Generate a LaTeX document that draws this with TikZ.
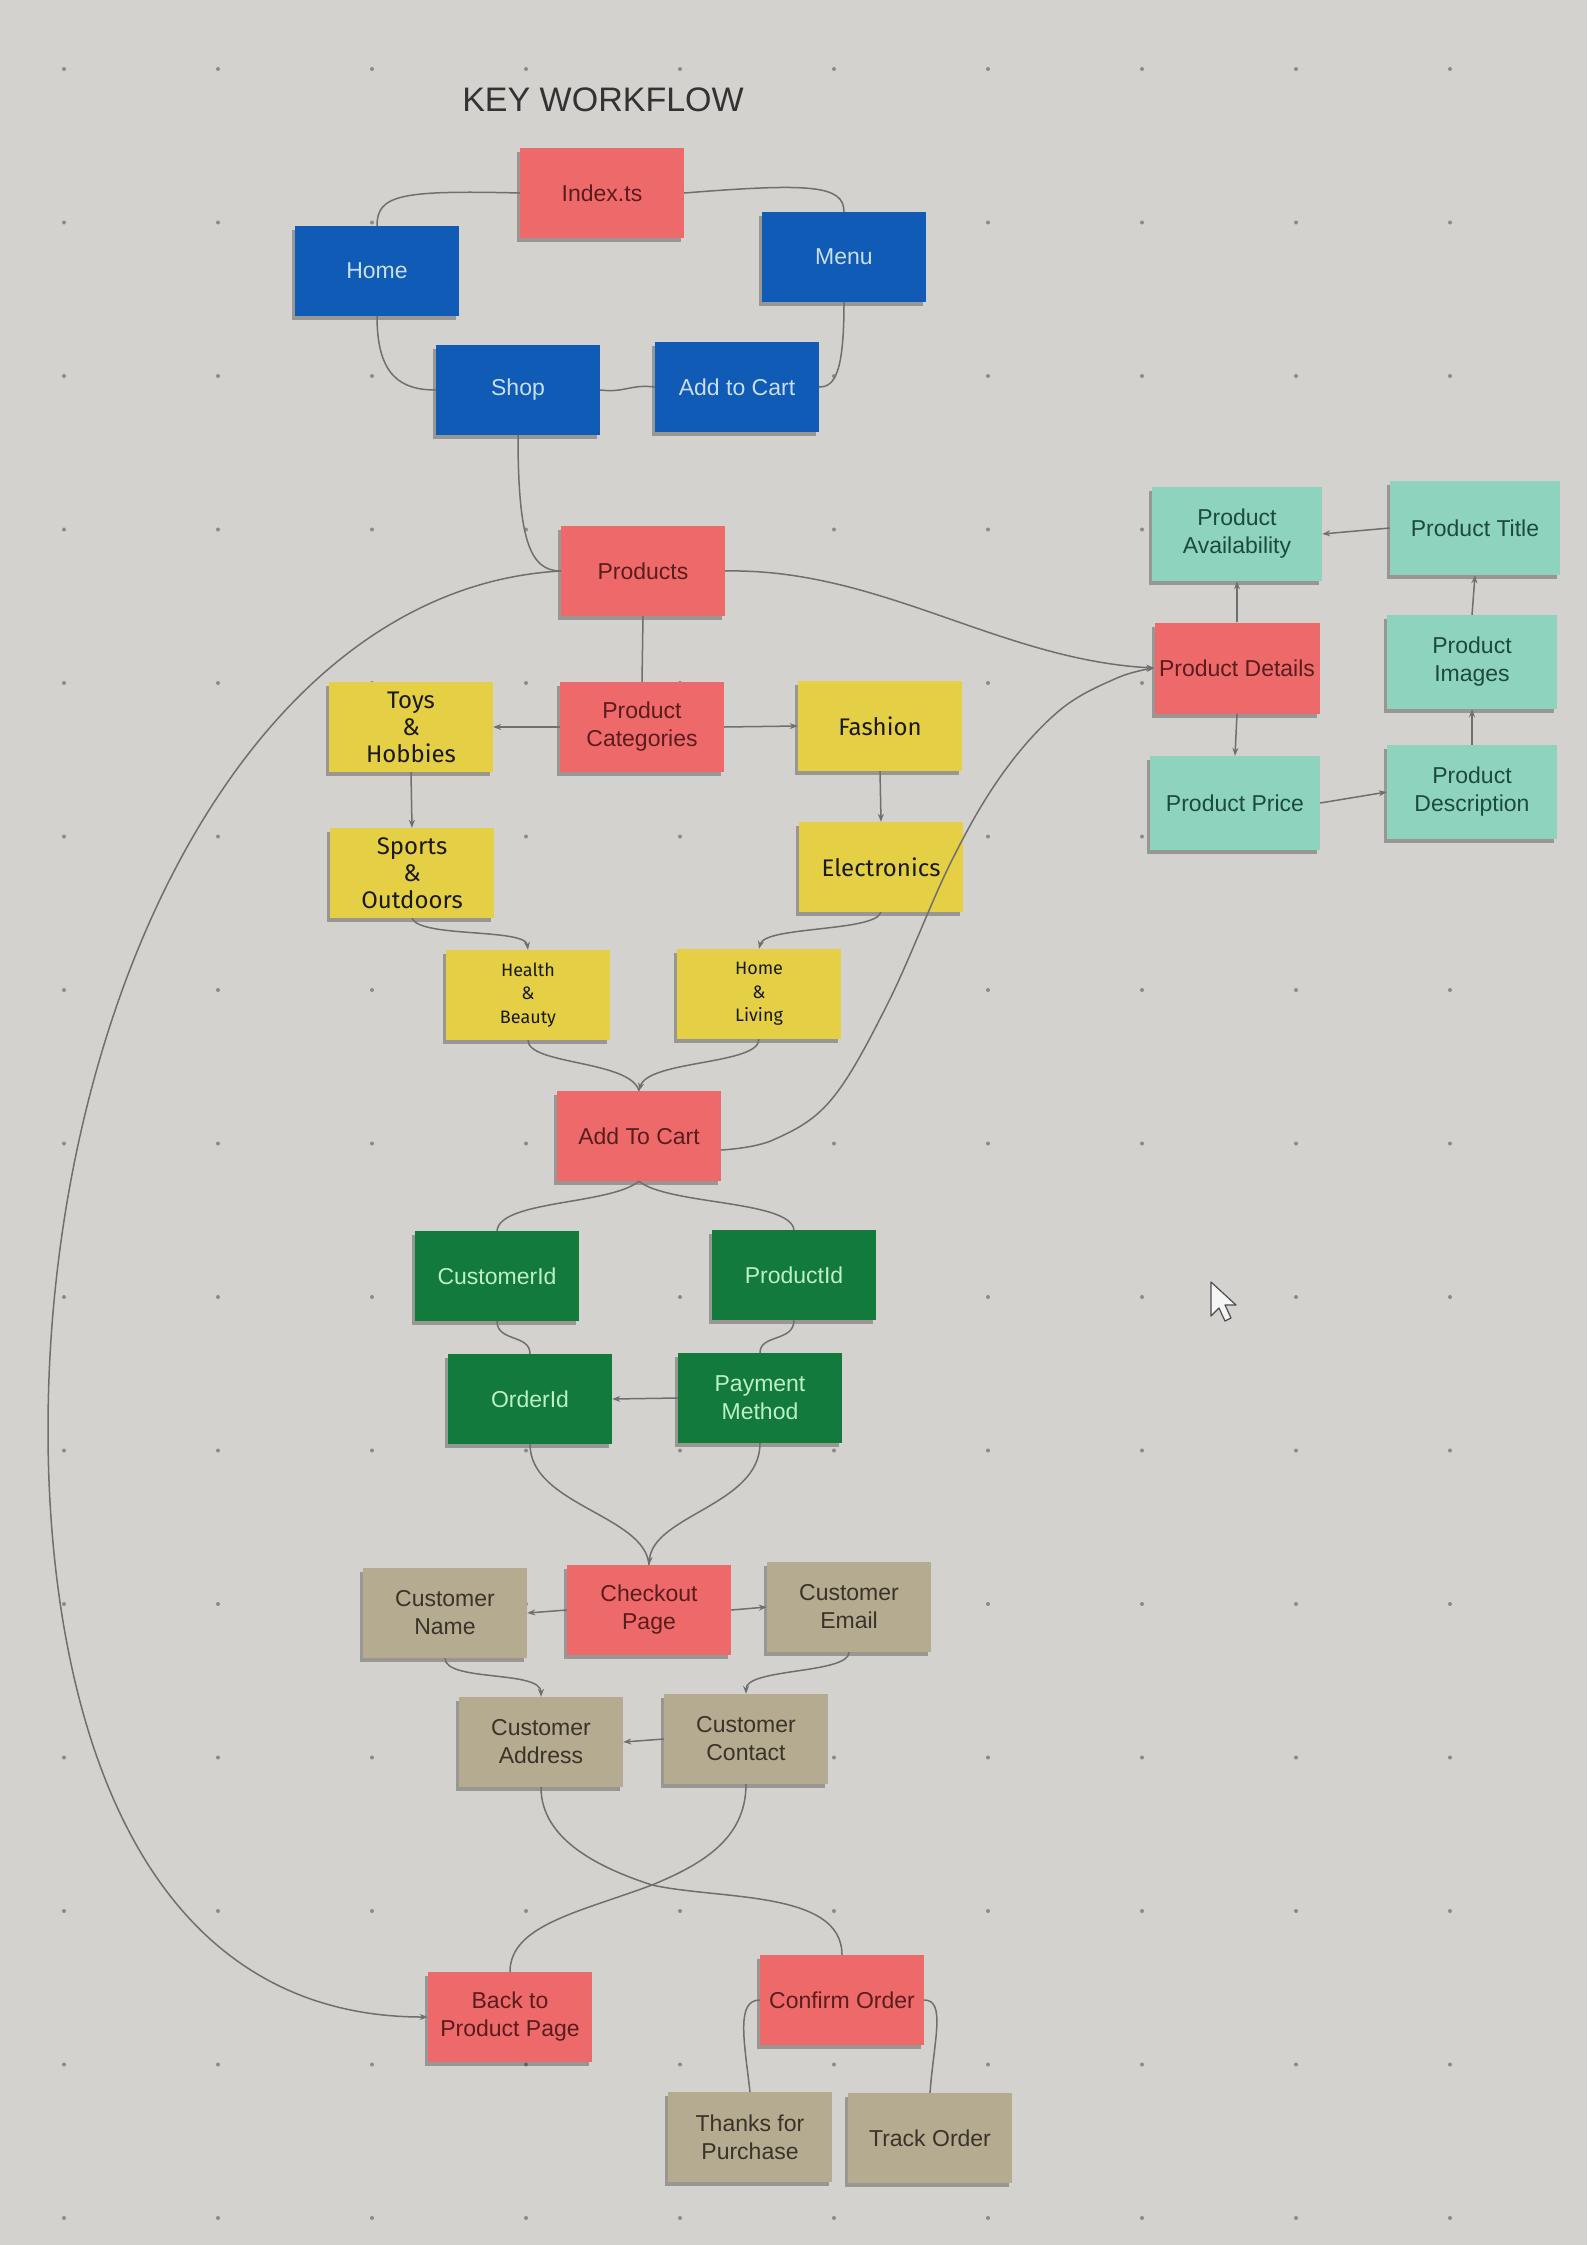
\documentclass[tikz,border=0pt]{standalone}
\usepackage{fontspec}
\setmainfont{Liberation Sans}
\newfontfamily\yelfamily{Fira Sans}
\usetikzlibrary{arrows.meta,shadows}
\definecolor{bgc}{HTML}{D4D2CE}
\definecolor{dotc}{HTML}{8C8B88}
\definecolor{redf}{HTML}{EE6A6A}
\definecolor{redt}{HTML}{5A1C1C}
\definecolor{bluef}{HTML}{0F5BB5}
\definecolor{bluet}{HTML}{CADDF2}
\definecolor{yelf}{HTML}{E5CF45}
\definecolor{yelt}{HTML}{1A1A1A}
\definecolor{grnf}{HTML}{127A3B}
\definecolor{grnt}{HTML}{BDF0C4}
\definecolor{tealf}{HTML}{8ED3BE}
\definecolor{tealt}{HTML}{1D4A3E}
\definecolor{tanf}{HTML}{B4AB91}
\definecolor{tant}{HTML}{3A3428}
\definecolor{linkc}{HTML}{6F6F6F}
\newcommand\nfont{\fontsize{23}{28}\selectfont}
\newcommand\yfont{\yelfamily\fontsize{24}{27}\selectfont}
\newcommand\ysfont{\yelfamily\fontsize{18}{23.5}\selectfont}
\tikzset{
  note/.style={rectangle, minimum width=164pt, minimum height=90pt, inner sep=2pt,
    align=center, font=\nfont,
    drop shadow={shadow xshift=-3pt, shadow yshift=-4pt, fill=black, opacity=0.28}},
  rednote/.style={note, fill=redf, text=redt},
  bluenote/.style={note, fill=bluef, text=bluet},
  yelnote/.style={note, fill=yelf, text=yelt, font=\yfont},
  yelsmall/.style={note, fill=yelf, text=yelt, font=\ysfont},
  grnnote/.style={note, fill=grnf, text=grnt},
  tealnote/.style={note, fill=tealf, text=tealt, minimum width=170pt, minimum height=94pt},
  tannote/.style={note, fill=tanf, text=tant},
  link/.style={draw=linkc, line width=1.5pt},
  arr/.style={link, -{Stealth[length=8pt,width=6pt]}},
}
\begin{document}
\begin{tikzpicture}[x=1pt,y=-1pt]
\fill[bgc] (0,0) rectangle (1587,2245);
\useasboundingbox (0,0) rectangle (1587,2245);
% grid dots
\foreach \i in {0,...,9}{
  \foreach \j in {0,...,14}{
    \fill[dotc] (64+154*\i, 69+153.5*\j) circle (2pt);
  }
}
% title
\node[font=\fontsize{34}{40}\selectfont, text=black!80] (title) at (603,100) {KEY WORKFLOW};
% top blue group
\node[rednote] (index) at (602,193) {Index.ts};
\node[bluenote] (home) at (377,271) {Home};
\node[bluenote] (menu) at (844,257) {Menu};
\node[bluenote] (shop) at (518,390) {Shop};
\node[bluenote] (addcart) at (737,387) {Add to Cart};
% products
\node[rednote] (products) at (643,571) {Products};
\node[rednote] (pcat) at (642,727) {Product\\Categories};
\node[yelnote] (toys) at (411,727) {Toys\\\&\\Hobbies};
\node[yelnote] (fashion) at (880,726) {Fashion};
\node[yelnote] (sports) at (412,873) {Sports\\\&\\Outdoors};
\node[yelnote] (electronics) at (881,867) {Electronics};
\node[yelsmall] (health) at (528,995) {Health\\\&\\Beauty};
\node[yelsmall] (homeliv) at (759,994) {Home\\\&\\Living};
\node[rednote] (addcart2) at (639,1136) {Add To Cart};
% green
\node[grnnote] (custid) at (497,1276) {CustomerId};
\node[grnnote] (prodid) at (794,1275) {ProductId};
\node[grnnote] (orderid) at (530,1399) {OrderId};
\node[grnnote] (payment) at (760,1398) {Payment\\Method};
% checkout
\node[rednote] (checkout) at (649,1610) {Checkout\\Page};
\node[tannote] (custname) at (445,1613) {Customer\\Name};
\node[tannote] (custemail) at (849,1607) {Customer\\Email};
\node[tannote] (custaddr) at (541,1742) {Customer\\Address};
\node[tannote] (custcontact) at (746,1739) {Customer\\Contact};
\node[rednote] (backprod) at (510,2017) {Back to\\Product Page};
\node[rednote] (confirm) at (842,2000) {Confirm Order};
\node[tannote] (thanks) at (750,2137) {Thanks for\\Purchase};
\node[tannote] (track) at (930,2138) {Track Order};
% product details cluster
\node[tealnote] (pavail) at (1237,534) {Product\\Availability};
\node[tealnote] (ptitle) at (1475,528) {Product Title};
\node[rednote, minimum width=165pt, minimum height=91pt] (pdetails) at (1237,668) {Product Details};
\node[tealnote] (pimages) at (1472,662) {Product\\Images};
\node[tealnote] (pprice) at (1235,803) {Product Price};
\node[tealnote] (pdesc) at (1472,792) {Product\\Description};
% cursor
\filldraw[fill=white!92!gray, draw=black!70, line width=1.2pt, line join=round]
  (1211,1282) -- (1211,1316) -- (1219,1308) -- (1225,1321) -- (1231,1318) -- (1225,1305) -- (1236,1305) -- cycle;

% ---- connectors ----
\draw[link] (index.west) .. controls (400,190) and (377,195) .. (home.north);
\draw[link] (index.east) .. controls (810,183) and (844,185) .. (menu.north);
\draw[link] (home.south) .. controls (377,375) and (400,390) .. (shop.west);
\draw[link] (menu.south) .. controls (844,372) and (835,387) .. (addcart.east);
\draw[link] (shop.east) .. controls (625,393) and (630,384) .. (addcart.west);
\draw[link] (shop.south) .. controls (518,540) and (530,571) .. (products.west);
\coordinate (lc2) at (48,1430);
\draw[arr] (products.west) .. controls (250,588) and (48,1000) .. (lc2)
  .. controls (48,1680) and (120,2017) .. (backprod.west);
\draw[arr] (products.east) .. controls (880,568) and (1000,660) .. (pdetails.west);
\draw[link] (products.south) -- (pcat.north);
\draw[arr] (pcat.west) -- (toys.east);
\draw[arr] (pcat.east) -- (fashion.west);
\draw[arr] (toys.south) -- (sports.north);
\draw[arr] (fashion.south) -- (electronics.north);
\draw[arr] (sports.south) .. controls (420,938) and (525,928) .. (health.north);
\draw[arr] (electronics.south) .. controls (875,932) and (765,926) .. (homeliv.north);
\draw[link] (health.south) .. controls (528,1065) and (630,1060) .. (addcart2.north);
\draw[arr] (homeliv.south) .. controls (759,1065) and (648,1060) .. (addcart2.north);
\draw[arr] plot[smooth, tension=0.6] coordinates {([yshift=-14pt]addcart2.east) (773,1140) (831,1100) (888,1003) (951,862) (1003,773) (1060,710) (1117,678) (pdetails.west)};
\draw[arr] (pdetails.north) -- (pavail.south);
\draw[arr] (ptitle.west) -- (pavail.east);
\draw[arr] (pimages.north) -- (ptitle.south);
\draw[arr] (pdesc.north) -- (pimages.south);
\draw[arr] (pdetails.south) -- (pprice.north);
\draw[arr] (pprice.east) -- (pdesc.west);
\draw[link] (addcart2.south) .. controls (610,1205) and (500,1200) .. (custid.north);
\draw[link] (addcart2.south) .. controls (668,1205) and (790,1200) .. (prodid.north);
\draw[link] (custid.south) .. controls (497,1342) and (530,1334) .. (orderid.north);
\draw[link] (prodid.south) .. controls (794,1342) and (760,1334) .. (payment.north);
\draw[arr] (payment.west) -- (orderid.east);
\draw[link] (orderid.south) .. controls (530,1505) and (645,1515) .. (checkout.north);
\draw[arr] (payment.south) .. controls (760,1505) and (653,1515) .. (checkout.north);
\draw[arr] (checkout.west) -- (custname.east);
\draw[arr] (checkout.east) -- (custemail.west);
\draw[arr] (custname.south) .. controls (445,1682) and (541,1670) .. (custaddr.north);
\draw[arr] (custemail.south) .. controls (849,1674) and (746,1668) .. (custcontact.north);
\draw[arr] (custcontact.west) -- (custaddr.east);
\coordinate (cross) at (652,1885);
\draw[link] (custaddr.south) .. controls (541,1840) and (600,1868) .. (cross) .. controls (720,1900) and (842,1890) .. (confirm.north);
\draw[link] (custcontact.south) .. controls (746,1840) and (700,1865) .. (cross) .. controls (580,1912) and (510,1925) .. (backprod.north);
\draw[link] (confirm.west) .. controls (736,2000) and (744,2040) .. (thanks.north);
\draw[link] (confirm.east) .. controls (946,2000) and (934,2040) .. (track.north);
\end{tikzpicture}
\end{document}
